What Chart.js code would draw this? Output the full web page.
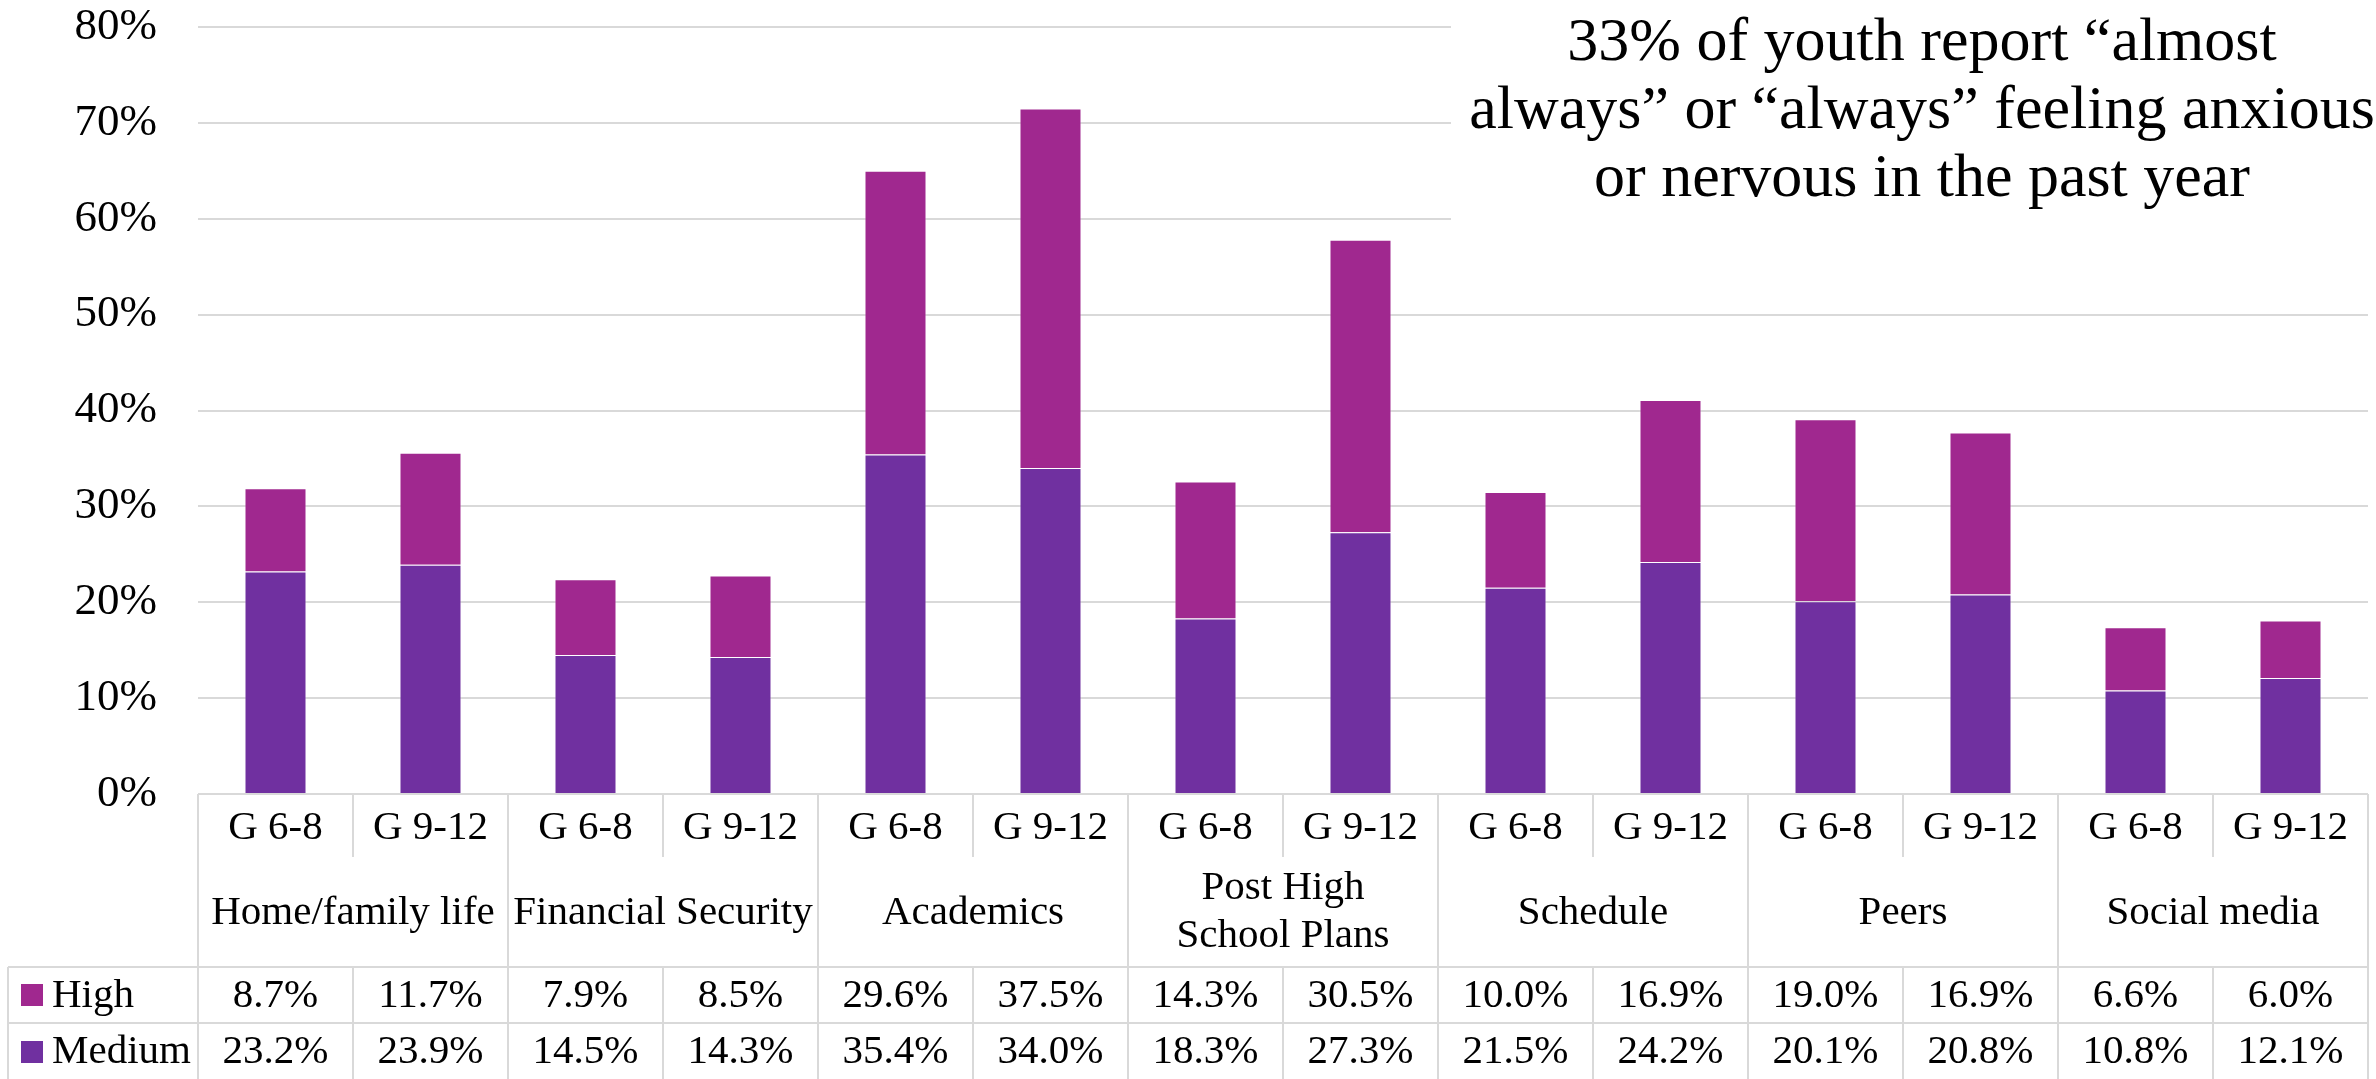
<!DOCTYPE html>
<html>
<head>
<meta charset="utf-8">
<script src="https://cdn.jsdelivr.net/npm/chart.js@4.4.1/dist/chart.umd.min.js"></script>
<style>
  body { margin: 0; background: #fff; }
  #wrap { width: 2376px; height: 1079px; position: relative; }
</style>
</head>
<body>
<div id="wrap"><canvas id="stressChart"></canvas></div>
<script>
// data
const groups = ['Home/family life', 'Financial Security', 'Academics', 'Post High School Plans', 'Schedule', 'Peers', 'Social media'];
const grades = ['G 6-8', 'G 9-12'];
const high = [8.7, 11.7, 7.9, 8.5, 29.6, 37.5, 14.3, 30.5, 10.0, 16.9, 19.0, 16.9, 6.6, 6.0];
const medium = [23.2, 23.9, 14.5, 14.3, 35.4, 34.0, 18.3, 27.3, 21.5, 24.2, 20.1, 20.8, 10.8, 12.1];
const yTicks = [0, 10, 20, 30, 40, 50, 60, 70, 80];
const titleLines = ['33% of youth report \u201calmost', 'always\u201d or \u201calways\u201d feeling anxious', 'or nervous in the past year'];

const labels = groups.flatMap(() => grades);
const highColor = '#a0288f';
const medColor = '#7030a0';
const lineColor = '#d9d9d9';
const serif = '"Liberation Serif", "Times New Roman", serif';

// table under the plot + title box
const tablePlugin = {
  id: 'tablePlugin',
  afterDraw(chart) {
    const ctx = chart.ctx;
    const x = chart.scales.x;
    const area = chart.chartArea;
    const slot = (area.right - area.left) / labels.length;
    const top = area.bottom;
    const rowG = 857, rowGroup = 967, rowHigh = 1023, bottom = 1079;
    const legLeft = 8;

    ctx.save();
    ctx.strokeStyle = lineColor;
    ctx.lineWidth = 2;
    ctx.beginPath();
    // horizontals
    ctx.moveTo(area.left, top); ctx.lineTo(area.right, top);
    ctx.moveTo(legLeft, rowGroup); ctx.lineTo(area.right, rowGroup);
    ctx.moveTo(legLeft, rowHigh); ctx.lineTo(area.right, rowHigh);
    ctx.moveTo(legLeft, rowGroup); ctx.lineTo(legLeft, bottom);
    // verticals
    for (let i = 0; i <= labels.length; i++) {
      const bx = area.left + i * slot;
      if (i % 2 === 0) {
        ctx.moveTo(bx, top); ctx.lineTo(bx, bottom);
      } else {
        ctx.moveTo(bx, top); ctx.lineTo(bx, rowG);
        ctx.moveTo(bx, rowGroup); ctx.lineTo(bx, bottom);
      }
    }
    ctx.stroke();

    ctx.fillStyle = '#000';
    ctx.textAlign = 'center';
    ctx.textBaseline = 'middle';
    ctx.font = '41px ' + serif;
    labels.forEach((lab, i) => {
      const cx = x.getPixelForValue(i);
      ctx.fillText(lab, cx, 828);
      ctx.fillText(high[i].toFixed(1) + '%', cx, 996);
      ctx.fillText(medium[i].toFixed(1) + '%', cx, 1052);
    });
    groups.forEach((g, j) => {
      const cx = area.left + (2 * j + 1) * slot;
      if (g === 'Post High School Plans') {
        ctx.fillText('Post High', cx, 888);
        ctx.fillText('School Plans', cx, 936);
      } else {
        ctx.fillText(g, cx, 913);
      }
    });

    // legend keys
    ctx.textAlign = 'left';
    ctx.fillStyle = highColor;
    ctx.fillRect(21, 984, 22, 22);
    ctx.fillStyle = medColor;
    ctx.fillRect(21, 1041, 22, 22);
    ctx.fillStyle = '#000';
    ctx.fillText('High', 52, 996);
    ctx.fillText('Medium', 52, 1052);

    // title box
    ctx.fillStyle = '#fff';
    ctx.fillRect(1451, 0, 925, 240);
    ctx.fillStyle = '#000';
    ctx.textAlign = 'center';
    ctx.font = '62px ' + serif;
    titleLines.forEach((t, k) => ctx.fillText(t, 1922, 44 + k * 68));
    ctx.restore();
  }
};

const chart = new Chart(document.getElementById('stressChart'), {
  type: 'bar',
  data: {
    labels: labels,
    datasets: [{
      label: 'Medium',
      data: medium,
      backgroundColor: medColor,
      borderColor: 'rgba(255,255,255,0.35)',
      borderWidth: 1,
      barPercentage: 0.4,
      categoryPercentage: 1
    }, {
      label: 'High',
      data: high, // stacked on top of medium
      backgroundColor: highColor,
      borderColor: 'rgba(255,255,255,0.35)',
      borderWidth: 1,
      barPercentage: 0.4,
      categoryPercentage: 1
    }]
  },
  options: {
    responsive: true,
    maintainAspectRatio: false,
    animation: false,
    layout: { padding: { top: 0, right: 8, bottom: 285, left: 0 } },
    scales: {
      x: {
        stacked: true,
        display: false
      },
      y: {
        stacked: true,
        min: 0,
        max: 80,
        afterFit(scale) {
          scale.width = 198;
          scale.paddingTop = 27; // keep 80% line near the top edge
          scale.paddingBottom = 0;
        },
        afterBuildTicks(scale) { scale.ticks = yTicks.map(v => ({ value: v })); },
        border: { display: false },
        grid: { color: lineColor, lineWidth: 2, drawTicks: false },
        ticks: {
          padding: 41,
          color: '#000',
          font: { family: serif, size: 45 },
          callback: function(value) { return value + '%'; }
        }
      }
    },
    plugins: {
      legend: { display: false },
      tooltip: { enabled: false }
    }
  },
  plugins: [tablePlugin]
});
</script>
</body>
</html>
